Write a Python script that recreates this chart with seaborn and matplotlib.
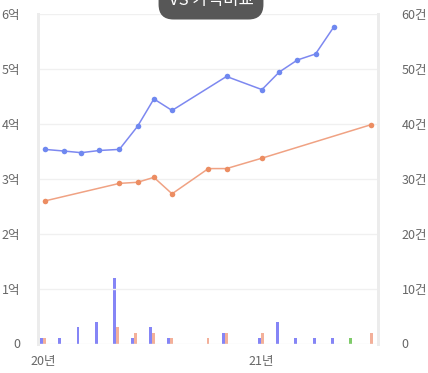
import pandas as pd
import numpy as np
import matplotlib.pyplot as plt
import seaborn as sns

# price lines (억), x = months since Jan 2020
blue_x = [0.1, 1.15, 2.1, 3.1, 4.2, 5.2, 6.1, 7.1, 10.1, 12.05, 13.0, 14.0, 15.0, 16.0]
blue_price = [3.54, 3.51, 3.48, 3.52, 3.54, 3.96, 4.46, 4.25, 4.87, 4.63, 4.95, 5.17, 5.28, 5.77]
orange_x = [0.1, 4.2, 5.2, 6.1, 7.1, 9.1, 10.1, 12.05, 18.05]
orange_price = [2.60, 2.92, 2.94, 3.03, 2.73, 3.19, 3.19, 3.38, 3.99]

# deal counts (건) per month
blue_months = [0, 1, 2, 3, 4, 5, 6, 7, 10, 12, 13, 14, 15, 16]
blue_counts = [1, 1, 3, 4, 12, 1, 3, 1, 2, 1, 4, 1, 1, 1]
orange_months = [0, 4, 5, 6, 7, 9, 10, 12, 18]
orange_counts = [1, 3, 2, 2, 1, 1, 2, 2, 2]
green_months = [17]
green_counts = [1]

y_ticks = [0, 1, 2, 3, 4, 5, 6]
y_labels = ['0', '1억', '2억', '3억', '4억', '5억', '6억']
y2_ticks = [0, 10, 20, 30, 40, 50, 60]
y2_labels = ['0', '10건', '20건', '30건', '40건', '50건', '60건']
x_ticks = [0, 12]
x_labels = ['20년', '21년']
title = 'VS 가격비교'

sns.set_style('white')
plt.rcParams['font.family'] = ['Noto Sans CJK KR', 'DejaVu Sans']

fig = plt.figure(figsize=(4.28, 3.73), dpi=100)
ax = fig.add_axes([38 / 428, (373 - 343.5) / 373, 340 / 428, 329 / 373])
ax2 = ax.twinx()

bars = pd.DataFrame({
    'month': blue_months + orange_months,
    'count': blue_counts + orange_counts,
    'series': ['blue'] * len(blue_months) + ['orange'] * len(orange_months),
})
sns.barplot(data=bars, x='month', y='count', hue='series', order=list(range(19)),
            hue_order=['blue', 'orange'], palette={'blue': '#8585f6', 'orange': '#f3b09a'},
            width=0.32, saturation=1, linewidth=0, legend=False, ax=ax2, zorder=1)
ax2.bar(np.array(green_months) - 0.08, green_counts, width=0.16, color='#7fcb6a',
        linewidth=0, zorder=1)

sns.lineplot(x=blue_x, y=blue_price, color='#7d88f0', linewidth=1.1, marker='o',
             markersize=4, markeredgewidth=0, ax=ax, zorder=3)
sns.lineplot(x=orange_x, y=orange_price, color='#f0a283', linewidth=1.1, marker='o',
             markersize=4, markeredgewidth=0, markerfacecolor='#ec8d62', ax=ax, zorder=3)
for l in ax.lines[:1]:
    l.set_markerfacecolor('#6f88f0')

ax.set_ylim(0, 6)
ax2.set_ylim(0, 60)
ax.set_xlim(-0.28, 18.44)
ax.set_yticks(y_ticks)
ax.set_yticklabels(y_labels)
ax2.set_yticks(y2_ticks)
ax2.set_yticklabels(y2_labels)
ax.set_xticks(x_ticks)
ax.set_xticklabels(x_labels)
ax.set_xlabel('')
ax.set_ylabel('')
ax2.set_xlabel('')
ax2.set_ylabel('')

ax.grid(axis='y', color='#f0f0f0', linewidth=1)
ax.grid(axis='x', visible=False)
ax.tick_params(axis='y', length=0, pad=13, labelsize=9, labelcolor='#666666')
ax.tick_params(axis='x', length=0, pad=8, labelsize=9, labelcolor='#666666')
ax2.tick_params(axis='y', length=0, pad=17, labelsize=9, labelcolor='#666666')
for a in (ax, ax2):
    a.spines['top'].set_visible(False)
    a.spines['bottom'].set_visible(False)
    a.spines['left'].set_color('#ececec')
    a.spines['right'].set_color('#ececec')
    a.spines['left'].set_linewidth(2)
    a.spines['right'].set_linewidth(2)
ax2.set_zorder(ax.get_zorder() - 1)
ax.patch.set_visible(False)

fig.text(0.493, 1 - 1 / 373, title, ha='center', va='center', fontsize=12, color='white',
         bbox=dict(boxstyle='round,pad=0.6,rounding_size=0.9', fc='#575757', ec='none'))

fig.savefig('out.png', dpi=100)
